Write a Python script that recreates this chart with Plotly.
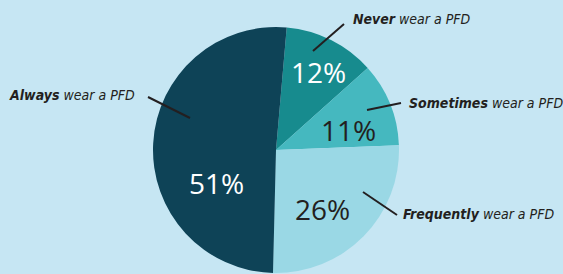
import plotly.graph_objects as go

# ---- data ----
categories = ["Never", "Sometimes", "Frequently", "Always"]
values = [12, 11, 26, 51]
pct_labels = ["12%", "11%", "26%", "51%"]
callout_suffix = "wear a PFD"

# ---- styling / layout ----
W, H = 563, 274
colors = ["#178b8e", "#45b8bf", "#9ad8e5", "#0e4357"]
pct_colors = ["#ffffff", "#231f20", "#231f20", "#ffffff"]
bg = "#c6e6f3"

# pixel positions for annotation text and leader lines
pct_pos = [(318, 72), (348, 130), (322, 209), (216, 183)]
callout_pos = [(351, 19, "left"), (407, 103, "left"), (401, 214, "left"), (137, 95, "right")]
leader_lines = [((313, 51), (344, 24)), ((367, 110), (401, 103)),
                ((363, 192), (397, 215)), ((148, 97), (190, 118))]

def px(x):
    return x / W

def py(y):
    return 1 - y / H

fig = go.Figure(go.Pie(
    labels=categories, values=values, sort=False, direction="clockwise",
    rotation=5, marker=dict(colors=colors, line=dict(width=0)),
    textinfo="none", hoverinfo="skip",
    domain=dict(x=[px(153), px(399)], y=[py(273), py(27)]),
    showlegend=False,
))

annotations = []
for lab, (x, y), c in zip(pct_labels, pct_pos, pct_colors):
    annotations.append(dict(x=px(x), y=py(y), xref="paper", yref="paper", text=lab,
                            showarrow=False, xanchor="center", yanchor="middle",
                            font=dict(family="Open Sans", size=28, color=c)))
for cat, (x, y, anc) in zip(categories, callout_pos):
    annotations.append(dict(x=px(x), y=py(y), xref="paper", yref="paper",
                            text=f"<b><i>{cat}</i></b> <i>{callout_suffix}</i>",
                            showarrow=False, xanchor=anc, yanchor="middle",
                            font=dict(family="DejaVu Sans Condensed, Roboto", size=14, color="#231f20")))

shapes = []
for (x0, y0), (x1, y1) in leader_lines:
    shapes.append(dict(type="line", xref="paper", yref="paper",
                       x0=px(x0), y0=py(y0), x1=px(x1), y1=py(y1),
                       line=dict(color="#231f20", width=2)))

fig.update_layout(width=W, height=H, margin=dict(l=0, r=0, t=0, b=0),
                  paper_bgcolor=bg, plot_bgcolor=bg,
                  annotations=annotations, shapes=shapes)
fig.write_html("out.html", config={"displayModeBar": False},
               post_script="document.body.style.margin='0';document.body.style.overflow='hidden';")
